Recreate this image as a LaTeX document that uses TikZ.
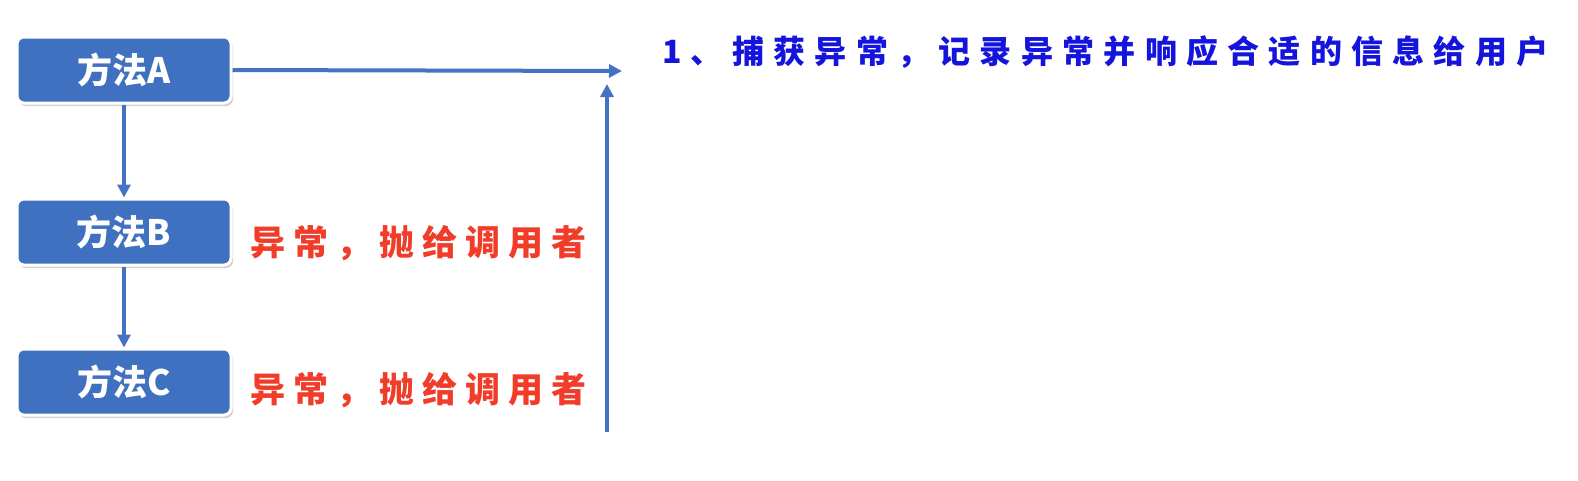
\documentclass[tikz,border=0pt]{standalone}
\usepackage{fontspec}
\setmainfont{Noto Sans CJK SC}
\newfontfamily\cjk{Noto Sans CJK SC}
\usetikzlibrary{shadows,arrows.meta}
\definecolor{boxblue}{RGB}{64,112,192}
\definecolor{arrblue}{RGB}{70,114,196}
\definecolor{redtxt}{RGB}{240,60,40}
\definecolor{bluetxt}{RGB}{20,20,220}
\tikzset{
  method/.style={draw=white, line width=3pt, fill=boxblue, rounded corners=7pt,
    minimum width=214pt, minimum height=66pt, text=white,
    font=\cjk\bfseries\fontsize{35pt}{35pt}\selectfont,
    drop shadow={shadow xshift=2pt, shadow yshift=-3pt, fill=black!25, opacity=0.7}},
  conn/.style={draw=arrblue, line width=4pt, -{Triangle[length=13pt,width=13pt]}},
  redlabel/.style={anchor=west, inner sep=0pt, text=redtxt,
    font=\cjk\bfseries\fontsize{35pt}{35pt}\selectfont\addfontfeature{LetterSpace=23}},
  bluelabel/.style={anchor=west, inner sep=0pt, text=bluetxt,
    font=\cjk\bfseries\fontsize{32pt}{32pt}\selectfont\addfontfeature{LetterSpace=29}}
}
\begin{document}
\begin{tikzpicture}[x=1pt,y=-1pt]
\useasboundingbox[fill=white] (0,0) rectangle (1578,480);
\node[method] (A) at (124,70) {方法A};
\node[method] (B) at (124,232) {方法B};
\node[method] (C) at (124,382) {方法C};
\coordinate (Aend) at (622,71);
\coordinate (Ubot) at (607,432);
\coordinate (Utop) at (607,84);
\draw[conn] (A.south) -- (B.north);
\draw[conn] (B.south) -- (C.north);
\draw[conn] (A.east) -- (Aend);
\draw[conn] (Ubot) -- (Utop);
\node[redlabel] (L1) at (250,243) {异常，抛给调用者};
\node[redlabel] (L2) at (250,390) {异常，抛给调用者};
\node[bluelabel] (T) at (662,52) {1、捕获异常，记录异常并响应合适的信息给用户};
\end{tikzpicture}
\end{document}
